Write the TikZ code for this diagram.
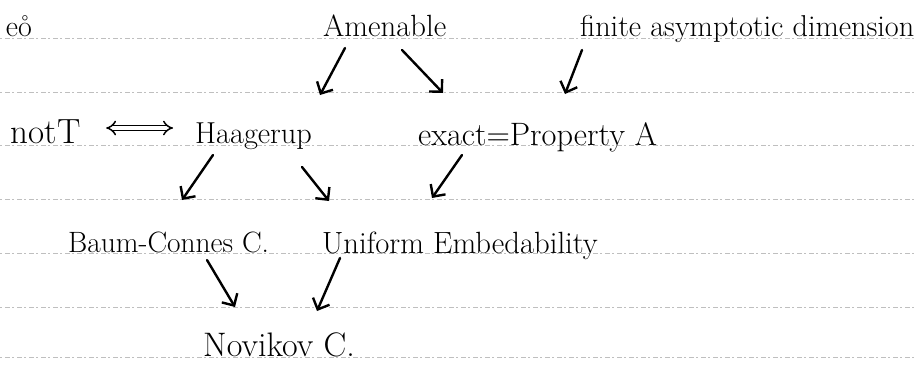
\documentclass[tikz,border=0pt]{standalone}
\usetikzlibrary{arrows.meta,calc}
\tikzset{
  lbl/.style={inner sep=0pt, anchor=base west, font=\fontsize{#1}{#1}\selectfont, text=black},
  arr/.style={line width=2.4pt, black, line cap=round, -{Straight Barb[length=9pt,width=18pt,line width=2.4pt]}},
  ruled/.style={gray!50, line width=0.8pt, dash pattern=on 2pt off 3pt on 5pt off 2pt},
  iffarr/.style={line width=1.5pt, double, double distance=3.5pt, {Implies[length=7pt]}-{Implies[length=7pt]}}
}
\begin{document}
\begin{tikzpicture}[x=1pt,y=-1pt]
\useasboundingbox (0,0) rectangle (917,364);
\fill[white] (0,0) rectangle (917,364);
\clip (0,0) rectangle (917,364);
% ruled paper lines
\foreach \yy in {38,92,145,199,253,307,357}
  \draw[ruled] (0,\yy) -- (917,\yy);
% texts
\node[lbl=30, anchor=base east] (corner) at (32,36) {e\r{o}};
\node[lbl=30.7] (amen) at (323,36) {Amenable};
\node[lbl=30.2] (fad) at (580,36) {finite asymptotic dimension};
\node[lbl=35] (notT) at (10,143) {not\kern1pt T};
\node[lbl=30.3] (haag) at (195,143) {Haagerup};
\node[lbl=32.4] (exact) at (418,145) {exact=Property A};
\node[lbl=29.4] (bc) at (68,252) {Baum-Connes C.};
\node[lbl=30.7] (ue) at (322,253) {Uniform Embedability};
\node[lbl=34] (nov) at (203,356) {Novikov C.};
% connectors
\draw[iffarr] ($(notT.base east)+(25,-15)$) -- ($(haag.base west)+(-22,-15)$);
\draw[arr] ($(amen.base west)+(22,12)$) -- ($(haag.base west)+(125,-48)$);
\draw[arr] ($(amen.base west)+(79,14)$) -- ($(exact.base west)+(25,-52)$);
\draw[arr] ($(fad.base west)+(2,14)$) -- ($(exact.base west)+(147,-51)$);
\draw[arr] ($(haag.base west)+(18,12)$) -- ($(bc.base west)+(114,-52)$);
\draw[arr] ($(haag.base west)+(107,24)$) -- ($(ue.base west)+(7,-52)$);
\draw[arr] ($(exact.base west)+(44,10)$) -- ($(ue.base west)+(110,-55)$);
\draw[arr] ($(bc.base west)+(139,8)$) -- ($(nov.base west)+(32,-49)$);
\draw[arr] ($(ue.base west)+(18,5)$) -- ($(nov.base west)+(114,-45)$);
\end{tikzpicture}
\end{document}
